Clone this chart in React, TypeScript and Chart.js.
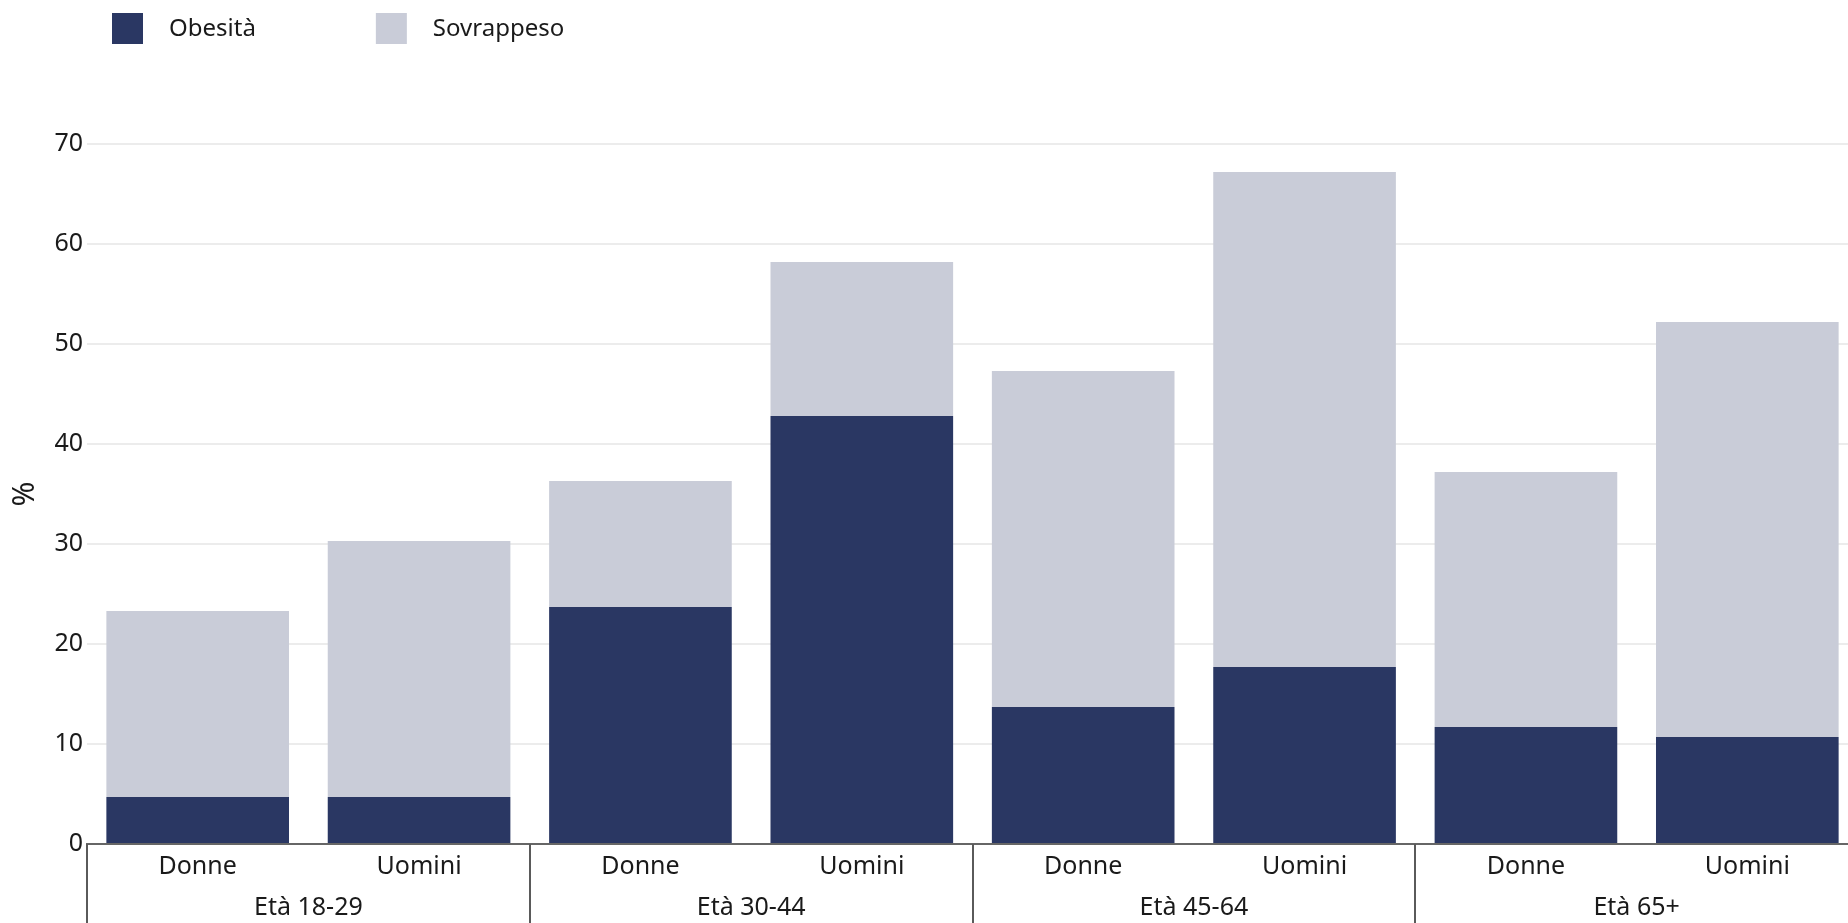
import React, { useEffect, useRef } from "react";
import { Chart, registerables } from "chart.js";

Chart.register(...registerables);

const groups = ["Età 18-29", "Età 30-44", "Età 45-64", "Età 65+"];
const sexes = ["Donne", "Uomini"];
const obesita = [4.7, 4.7, 23.7, 42.8, 13.7, 17.7, 11.7, 10.7];
const sovrappeso = [18.6, 25.6, 12.6, 15.4, 33.6, 49.5, 25.5, 41.5];
const seriesNames = ["Obesità", "Sovrappeso"];
const yTicks = [0, 10, 20, 30, 40, 50, 60, 70];

const DARK = "#2a3763";
const LIGHT = "#c9ccd8";
const FONT = "'Noto Sans', sans-serif";

const categories = groups.flatMap(() => sexes);

const decorPlugin = {
  id: "decor",
  afterDraw(chart: any) {
    const { ctx } = chart;
    const x = chart.scales.x;
    const step = x.getPixelForValue(1) - x.getPixelForValue(0);
    ctx.save();
    // group separators
    ctx.strokeStyle = "#5a5a5a";
    ctx.lineWidth = 2;
    for (let g = 0; g <= groups.length; g++) {
      const px = Math.round(x.getPixelForValue(g * sexes.length) - step / 2);
      ctx.beginPath();
      ctx.moveTo(px, chart.chartArea.bottom);
      ctx.lineTo(px, chart.height);
      ctx.stroke();
    }
    // legend
    ctx.font = `24px ${FONT}`;
    ctx.textBaseline = "middle";
    ctx.textAlign = "left";
    let lx = 112;
    chart.data.datasets.forEach((ds: any) => {
      ctx.fillStyle = ds.backgroundColor;
      ctx.fillRect(lx, 13, 31, 31);
      ctx.fillStyle = "#1a1a1a";
      ctx.fillText(ds.label, lx + 57, 29);
      lx += 57 + ctx.measureText(ds.label).width + 120;
    });
    ctx.restore();
  },
};

export default function App() {
  const ref = useRef<HTMLCanvasElement>(null);
  useEffect(() => {
    if (!ref.current) return;
    const chart = new Chart(ref.current, {
      type: "bar",
      data: {
        labels: categories,
        datasets: [
          {
            label: seriesNames[0],
            data: obesita,
            backgroundColor: DARK,
            categoryPercentage: 1,
            barPercentage: 0.825,
          },
          {
            label: seriesNames[1],
            data: sovrappeso,
            backgroundColor: LIGHT,
            categoryPercentage: 1,
            barPercentage: 0.825,
          },
        ],
      },
      options: {
        animation: false,
        responsive: true,
        maintainAspectRatio: false,
        layout: { padding: { top: 144, left: 0, right: 0, bottom: 0 } },
        plugins: {
          legend: { display: false },
          tooltip: { enabled: false },
        },
        scales: {
          x: {
            type: "category",
            stacked: true,
            position: "bottom",
            grid: { display: false, drawTicks: false },
            border: { display: true, color: "#666666", width: 2 },
            ticks: {
              font: { family: FONT, size: 25 },
              color: "#1a1a1a",
              padding: 8,
              maxRotation: 0,
              autoSkip: false,
            },
            afterFit: (s: any) => {
              s.height = 37;
            },
          },
          x2: {
            type: "category",
            labels: groups,
            position: "bottom",
            offset: true,
            grid: { display: false, drawTicks: false },
            border: { display: false },
            ticks: {
              font: { family: FONT, size: 25 },
              color: "#1a1a1a",
              padding: 12,
              maxRotation: 0,
              autoSkip: false,
            },
            afterFit: (s: any) => {
              s.height = 42;
            },
          },
          y: {
            stacked: true,
            min: 0,
            max: 70,
            afterBuildTicks: (s: any) => {
              s.ticks = yTicks.map((v) => ({ value: v }));
            },
            grid: { color: "#ececec", lineWidth: 2, drawTicks: false },
            border: { display: false },
            ticks: {
              font: { family: FONT, size: 25 },
              color: "#1a1a1a",
              padding: 4,
            },
            title: {
              display: true,
              text: "%",
              font: { family: FONT, size: 30 },
              color: "#1a1a1a",
              padding: { top: 7, bottom: 0 },
            },
            afterFit: (s: any) => {
              s.width = 87;
            },
          },
        },
      },
      plugins: [decorPlugin],
    });
    return () => chart.destroy();
  }, []);

  return (
    <div
      style={{
        position: "fixed",
        left: 0,
        top: 0,
        width: "1848px",
        height: "923px",
        overflow: "hidden",
        background: "#ffffff",
      }}
    >
      <div style={{ position: "relative", width: "1858px", height: "923px" }}>
        <canvas ref={ref} />
      </div>
    </div>
  );
}
